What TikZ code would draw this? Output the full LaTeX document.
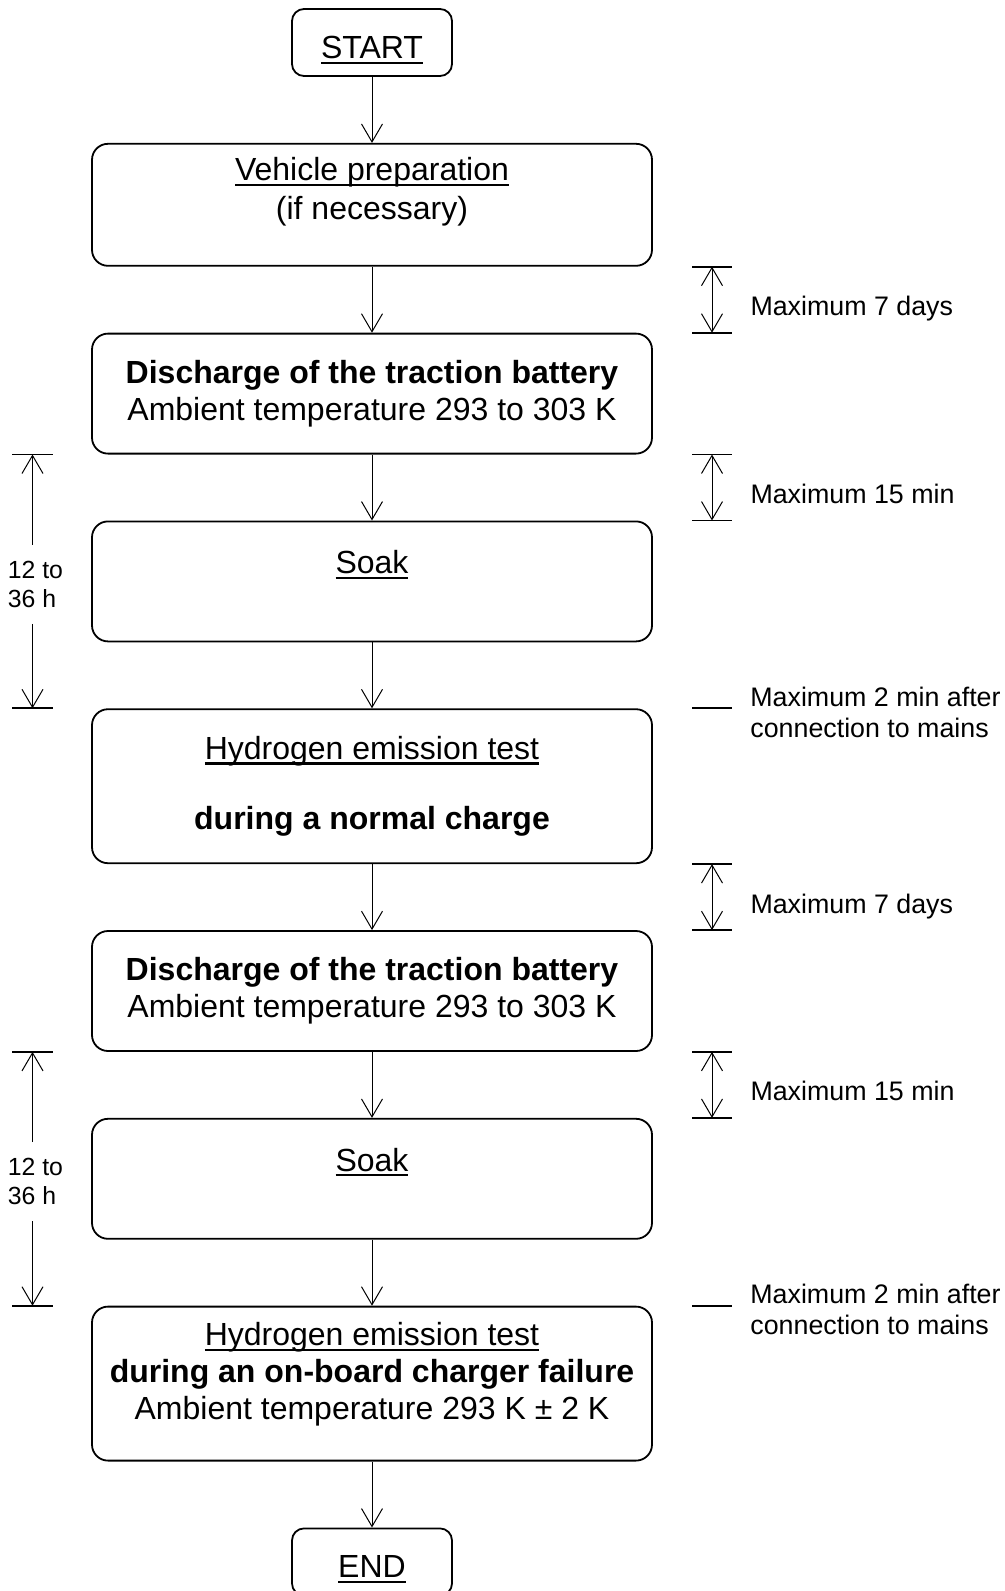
\documentclass[tikz,border=0pt]{standalone}
\usepackage{fontspec}
\setmainfont{Liberation Sans}
\usepackage{tikz}
\usetikzlibrary{positioning,arrows.meta}

\newlength\ulwidth
\newcommand\undl[1]{\settowidth\ulwidth{#1}\rlap{\smash{\rule[-2.6pt]{\ulwidth}{1.1pt}}}#1}
\newcommand\boxfont{\fontsize{16}{18.4}\selectfont}
\newcommand\gapfont{\fontsize{13.4}{15.5}\selectfont}
\newcommand\sidefont{\fontsize{12.4}{14.4}\selectfont}

\begin{document}
\begin{tikzpicture}[x=0.5pt,y=-0.5pt,node distance=33pt,
		stage/.style={draw,line width=0.9pt,rounded corners=8pt,minimum width=280pt,minimum height=60pt,align=center,font=\boxfont,inner sep=0pt},
		terminal/.style={draw,line width=0.9pt,rounded corners=6pt,minimum width=80pt,minimum height=33.5pt,font=\boxfont,text height=16pt,text depth=0pt},
		flow/.style={line width=0.5pt,-{Straight Barb[length=9pt,width=10.5pt]}},
		dimline/.style={line width=0.5pt,{Straight Barb[length=9pt,width=10.5pt]}-{Straight Barb[length=9pt,width=10.5pt]}},
		tickline/.style={line width=0.9pt},
		gaplabel/.style={font=\gapfont,align=left,inner sep=0pt,anchor=base west,xshift=19pt,yshift=-8pt},
		sidelabel/.style={font=\sidefont,align=left,inner xsep=0pt,inner ysep=8pt,anchor=west,xshift=-12.5pt,yshift=-1.5pt}]
		\useasboundingbox (0,0) rectangle (1005,1591);
		\coordinate (lx) at (32.5,0);
		\coordinate (rx) at (712,0);
		
		% main column
		\node[terminal] (start) at (372,42.5) {\undl{START}};
		\node[stage,minimum height=61pt,below=of start] (prep) {\undl{Vehicle preparation}\\[1pt](if necessary)\\[-2pt]\mbox{}};
		\node[stage,below=of prep] (dis1) {\textbf{Discharge of the traction battery}\\Ambient temperature 293 to 303 K};
		\node[stage,below=of dis1] (soak1) {\undl{Soak}\\[0.8pt]\mbox{}};
		\node[stage,minimum height=77pt,below=of soak1] (h2a) {\undl{Hydrogen emission test}\\[16.6pt]\textbf{during a normal charge}};
		\node[stage,below=of h2a] (dis2) {\textbf{Discharge of the traction battery}\\Ambient temperature 293 to 303 K};
		\node[stage,below=of dis2] (soak2) {\undl{Soak}\\[0.8pt]\mbox{}};
		\node[stage,minimum height=77pt,below=of soak2] (h2b) {\undl{Hydrogen emission test}\\\textbf{during an on-board charger failure}\\Ambient temperature 293 K ± 2 K\\[-5.5pt]\mbox{}};
		\node[terminal,below=of h2b] (end) {\undl{END}};
		
		\draw[flow] (start) -- (prep);
		\draw[flow] (prep) -- (dis1);
		\draw[flow] (dis1) -- (soak1);
		\draw[flow] (soak1) -- (h2a);
		\draw[flow] (h2a) -- (dis2);
		\draw[flow] (dis2) -- (soak2);
		\draw[flow] (soak2) -- (h2b);
		\draw[flow] (h2b) -- (end);
		
		% time limits on the right
		\draw[dimline] (prep.south -| rx) -- node[gaplabel] (wait1) {Maximum 7 days} (dis1.north -| rx);
		\draw[dimline] (dis1.south -| rx) -- node[gaplabel] (wait2) {Maximum 15 min} (soak1.north -| rx);
		\draw[dimline] (h2a.south -| rx) -- node[gaplabel] (wait3) {Maximum 7 days} (dis2.north -| rx);
		\draw[dimline] (dis2.south -| rx) -- node[gaplabel] (wait4) {Maximum 15 min} (soak2.north -| rx);
		\node[gaplabel,anchor=west,yshift=6pt] (mains1) at (h2a.north -| rx) {Maximum 2 min after\\connection to mains};
		\node[gaplabel,anchor=west,yshift=6pt] (mains2) at (h2b.north -| rx) {Maximum 2 min after\\connection to mains};
		\draw[tickline] (prep.south -| rx) ++(-20,0) -- ++(40,0);
		\draw[tickline] (dis1.north -| rx) ++(-20,0) -- ++(40,0);
		\draw[tickline] (dis1.south -| rx) ++(-20,0) -- ++(40,0);
		\draw[tickline] (soak1.north -| rx) ++(-20,0) -- ++(40,0);
		\draw[tickline] (h2a.north -| rx) ++(-20,0) -- ++(40,0);
		\draw[tickline] (h2a.south -| rx) ++(-20,0) -- ++(40,0);
		\draw[tickline] (dis2.north -| rx) ++(-20,0) -- ++(40,0);
		\draw[tickline] (dis2.south -| rx) ++(-20,0) -- ++(40,0);
		\draw[tickline] (soak2.north -| rx) ++(-20,0) -- ++(40,0);
		\draw[tickline] (h2b.north -| rx) ++(-20,0) -- ++(40,0);
		
		% soak duration on the left
		\path (dis1.south -| lx) -- node[sidelabel] (hours1) {12 to\\36 h} (h2a.north -| lx);
		\path (dis2.south -| lx) -- node[sidelabel] (hours2) {12 to\\36 h} (h2b.north -| lx);
		\draw[flow] (hours1.north -| lx) -- (dis1.south -| lx);
		\draw[flow] (hours1.south -| lx) -- (h2a.north -| lx);
		\draw[flow] (hours2.north -| lx) -- (dis2.south -| lx);
		\draw[flow] (hours2.south -| lx) -- (h2b.north -| lx);
		\draw[tickline] (dis1.south -| lx) ++(-20.5,0) -- ++(41,0);
		\draw[tickline] (h2a.north -| lx) ++(-20.5,0) -- ++(41,0);
		\draw[tickline] (dis2.south -| lx) ++(-20.5,0) -- ++(41,0);
		\draw[tickline] (h2b.north -| lx) ++(-20.5,0) -- ++(41,0);
\end{tikzpicture}
\end{document}
